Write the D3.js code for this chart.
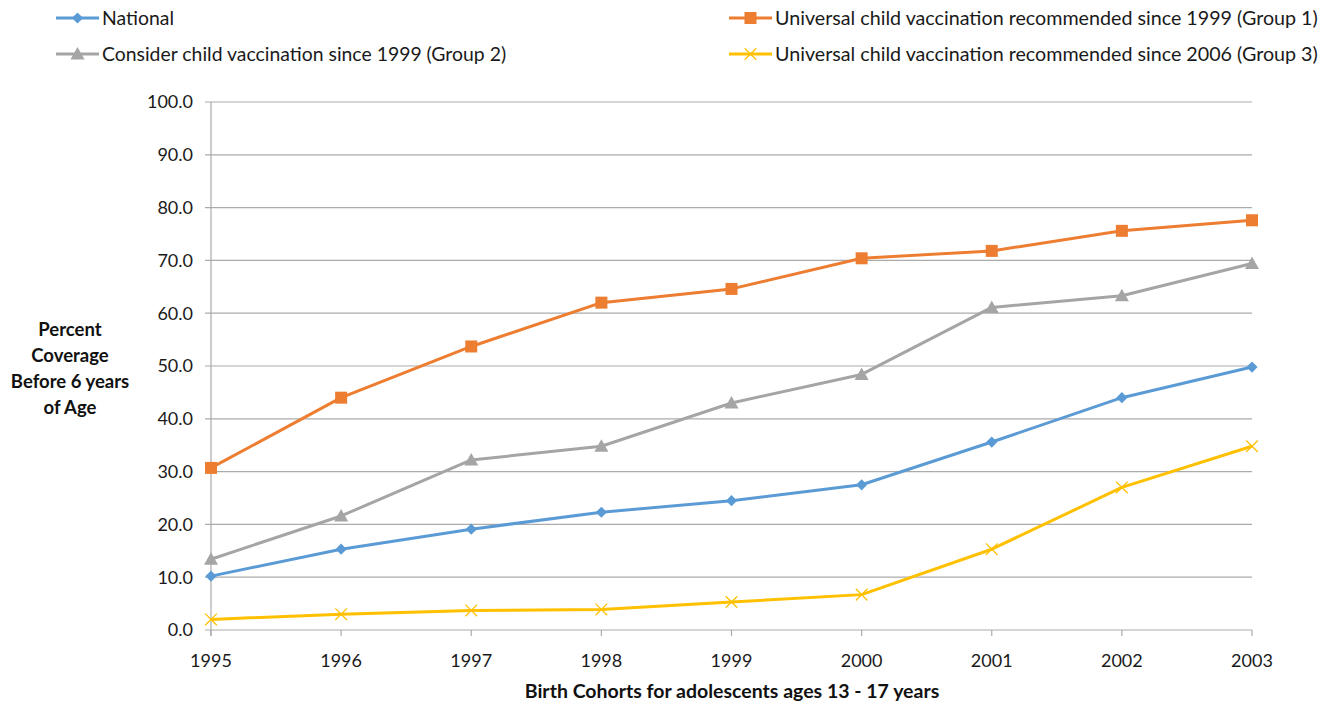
<!DOCTYPE html>
<html>
<head>
<meta charset="utf-8">
<script src="https://cdn.jsdelivr.net/npm/d3@7"></script>
<style>
  html, body { margin: 0; padding: 0; background: #fff; }
  svg { display: block; font-family: Lato, "Open Sans", sans-serif; }
</style>
</head>
<body>
<svg id="chart" width="1338" height="704"></svg>
<script>
// Birth cohorts and coverage (%) before 6 years of age
const years = [1995, 1996, 1997, 1998, 1999, 2000, 2001, 2002, 2003];
const national = [10.2, 15.3, 19.1, 22.3, 24.5, 27.5, 35.6, 44.0, 49.8];
const group1 = [30.7, 44.0, 53.7, 62.0, 64.6, 70.4, 71.8, 75.6, 77.6];
const group2 = [13.4, 21.6, 32.2, 34.8, 43.0, 48.4, 61.1, 63.3, 69.4];
const group3 = [2.0, 3.0, 3.7, 3.9, 5.3, 6.7, 15.3, 27.0, 34.8];
const yTicks = [0, 10, 20, 30, 40, 50, 60, 70, 80, 90, 100];

const seriesNames = [
  "National",
  "Universal child vaccination recommended since 1999 (Group 1)",
  "Consider child vaccination since 1999 (Group 2)",
  "Universal child vaccination recommended since 2006 (Group 3)"
];

const series = [
  { name: seriesNames[0], values: national, color: "#5B9BD5", marker: "diamond" },
  { name: seriesNames[1], values: group1, color: "#ED7D31", marker: "square" },
  { name: seriesNames[2], values: group2, color: "#A5A5A5", marker: "triangle" },
  { name: seriesNames[3], values: group3, color: "#FFC000", marker: "cross" }
];

const svg = d3.select("#chart");
const plotLeft = 211, plotRight = 1252, plotTop = 102, plotBottom = 630;

const x = d3.scalePoint().domain(years).range([plotLeft, plotRight]);
const y = d3.scaleLinear().domain([0, 100]).range([plotBottom, plotTop]);

// Horizontal gridlines with short outer ticks
svg.append("g").selectAll("line").data(yTicks).join("line")
  .attr("x1", plotLeft - 6).attr("x2", plotRight)
  .attr("y1", d => y(d)).attr("y2", d => y(d))
  .attr("stroke", "#ABABAB").attr("stroke-width", 1.2);

// Vertical axis line
svg.append("line")
  .attr("x1", plotLeft).attr("x2", plotLeft)
  .attr("y1", plotTop).attr("y2", plotBottom + 6)
  .attr("stroke", "#ABABAB").attr("stroke-width", 1.2);

// Category ticks below the x axis
svg.append("g").selectAll("line").data(years).join("line")
  .attr("x1", d => x(d)).attr("x2", d => x(d))
  .attr("y1", plotBottom).attr("y2", plotBottom + 6)
  .attr("stroke", "#ABABAB").attr("stroke-width", 1.2);

// Y tick labels
svg.append("g").selectAll("text").data(yTicks).join("text")
  .attr("x", plotLeft - 18).attr("y", d => y(d))
  .attr("dy", "0.35em").attr("text-anchor", "end")
  .attr("font-size", 18).attr("fill", "#1a1a1a")
  .text(d => d.toFixed(1));

// X tick labels
svg.append("g").selectAll("text").data(years).join("text")
  .attr("x", d => x(d)).attr("y", 667)
  .attr("text-anchor", "middle")
  .attr("font-size", 18).attr("fill", "#1a1a1a")
  .text(d => d);

// Axis titles
svg.append("text")
  .attr("x", 732).attr("y", 698)
  .attr("text-anchor", "middle")
  .attr("font-size", 19.5).attr("font-weight", "bold").attr("fill", "#111")
  .text("Birth Cohorts for adolescents ages 13 - 17 years");

const yTitle = ["Percent", "Coverage", "Before 6 years", "of Age"];
svg.append("g").selectAll("text").data(yTitle).join("text")
  .attr("x", 70).attr("y", (d, i) => 336 + i * 26)
  .attr("text-anchor", "middle")
  .attr("font-size", 18.5).attr("font-weight", "bold").attr("fill", "#111")
  .text(d => d);

// Marker drawing
function drawMarker(g, type, color) {
  if (type === "diamond") {
    g.append("path").attr("d", d3.symbol(d3.symbolDiamond2, 80)()).attr("fill", color);
  } else if (type === "square") {
    g.append("rect").attr("x", -6).attr("y", -6).attr("width", 12).attr("height", 12).attr("fill", color);
  } else if (type === "triangle") {
    g.append("path").attr("d", "M0,-7L7,5.5L-7,5.5Z").attr("fill", color);
  } else if (type === "cross") {
    g.append("path").attr("d", d3.symbol(d3.symbolTimes, 90)())
      .attr("fill", "none").attr("stroke", color).attr("stroke-width", 1.3);
  }
}

const line = d3.line().x((d, i) => x(years[i])).y(d => y(d));

series.forEach(s => {
  svg.append("path").datum(s.values)
    .attr("d", line).attr("fill", "none")
    .attr("stroke", s.color).attr("stroke-width", 3)
    .attr("stroke-linejoin", "round");
  svg.append("g").selectAll("g").data(s.values).join("g")
    .attr("transform", (d, i) => `translate(${x(years[i])},${y(d)})`)
    .each(function () { drawMarker(d3.select(this), s.marker, s.color); });
});

// Legend
const legendPos = [
  { lx: 56, ly: 18, size: 19.4 },
  { lx: 729, ly: 18, size: 19.7 },
  { lx: 56, ly: 54, size: 19.4 },
  { lx: 729, ly: 54, size: 19.7 }
];
series.forEach((s, i) => {
  const p = legendPos[i];
  const g = svg.append("g");
  g.append("line").attr("x1", p.lx).attr("x2", p.lx + 43)
    .attr("y1", p.ly).attr("y2", p.ly)
    .attr("stroke", s.color).attr("stroke-width", 3);
  const m = g.append("g").attr("transform", `translate(${p.lx + 21.5},${p.ly})`);
  drawMarker(m, s.marker, s.color);
  g.append("text").attr("x", p.lx + 46).attr("y", p.ly)
    .attr("dy", "0.35em").attr("font-size", p.size).attr("fill", "#1a1a1a")
    .text(s.name);
});
</script>
</body>
</html>
